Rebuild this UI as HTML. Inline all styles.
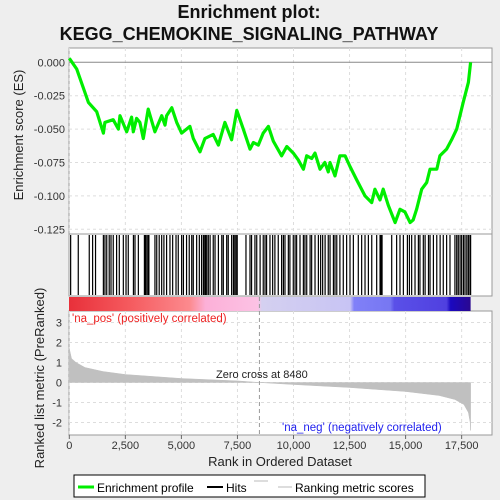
<!DOCTYPE html>
<html><head><meta charset="utf-8"><style>
body{margin:0;background:#eeeeee;}
svg{display:block;font-family:"Liberation Sans","DejaVu Sans",sans-serif;}
</style></head><body>
<svg id="c" width="500" height="500" viewBox="0 0 500 500">
<rect width="500" height="500" fill="#eeeeee"/>
<text x="249" y="18" text-anchor="middle" font-size="18" font-weight="bold" fill="#111">Enrichment plot:</text>
<text x="249" y="40" text-anchor="middle" font-size="18" font-weight="bold" fill="#111">KEGG_CHEMOKINE_SIGNALING_PATHWAY</text>
<defs>
<linearGradient id="cb" x1="0" x2="1" y1="0" y2="0">
<stop offset="0" stop-color="#e8303a"/><stop offset="0.15" stop-color="#f55a5e"/><stop offset="0.3" stop-color="#fc8a8e"/><stop offset="0.34" stop-color="#fcb0d8"/><stop offset="0.47" stop-color="#fcc2e4"/><stop offset="0.48" stop-color="#d4d0f0"/><stop offset="0.7" stop-color="#c8c4f4"/><stop offset="0.71" stop-color="#8080f8"/><stop offset="0.8" stop-color="#7777f2"/><stop offset="0.81" stop-color="#5a50e8"/><stop offset="0.94" stop-color="#5040e0"/><stop offset="0.95" stop-color="#1a08c0"/><stop offset="1" stop-color="#2a0890"/>
</linearGradient>
</defs>
<g id="root"></g>
<g>
<rect x="74" y="475" width="351" height="22" fill="#fff" stroke="#000"/>
<line x1="78" y1="487" x2="94" y2="487" stroke="#00ee00" stroke-width="3"/>
<text x="97" y="492" font-size="12">Enrichment profile</text>
<line x1="207" y1="487" x2="223" y2="487" stroke="#000" stroke-width="2"/>
<text x="226" y="492" font-size="12">Hits</text>
<line x1="254" y1="481" x2="268" y2="481" stroke="#bbb"/>
<line x1="278" y1="487" x2="292" y2="487" stroke="#bbb"/>
<text x="295" y="492" font-size="12">Ranking metric scores</text>
</g>
</svg>
<script>
const esRanks=[0,330,850,1220,1520,1590,1960,2190,2260,2560,2780,2855,3000,3150,3300,3520,3820,4120,4270,4340,4570,4790,5010,5380,5530,5830,6050,6420,6650,6940,7240,7470,7760,8060,8210,8430,8650,8880,9100,9470,9700,9990,10210,10440,10590,10810,10960,11180,11400,11550,11630,11850,12070,12300,12520,12820,13190,13490,13630,13860,14000,14230,14530,14750,14970,15200,15340,15490,15720,15940,16090,16390,16530,16830,17050,17280,17570,17800,17900];
const esValues=[0.003,-0.005,-0.03,-0.037,-0.053,-0.045,-0.043,-0.05,-0.04,-0.052,-0.041,-0.052,-0.042,-0.045,-0.057,-0.035,-0.052,-0.04,-0.047,-0.04,-0.034,-0.045,-0.053,-0.048,-0.057,-0.067,-0.057,-0.054,-0.062,-0.045,-0.058,-0.036,-0.05,-0.065,-0.06,-0.062,-0.053,-0.048,-0.059,-0.07,-0.063,-0.068,-0.073,-0.08,-0.07,-0.072,-0.068,-0.08,-0.075,-0.082,-0.075,-0.085,-0.07,-0.07,-0.078,-0.088,-0.1,-0.105,-0.095,-0.103,-0.095,-0.107,-0.12,-0.11,-0.112,-0.12,-0.118,-0.11,-0.095,-0.09,-0.08,-0.08,-0.07,-0.065,-0.058,-0.05,-0.03,-0.015,0.0];
const hits=[60,400,890,1040,1170,1520,1590,1670,1780,1860,1960,2110,2230,2410,2530,2630,2860,2930,3080,3350,3400,3460,3520,3550,3820,3900,4010,4120,4220,4340,4490,4610,4760,4860,5010,5090,5230,5350,5460,5530,5680,5800,5900,5980,6020,6080,6130,6200,6280,6420,6500,6650,6800,6870,7020,7090,7240,7320,7380,7440,7490,7880,8060,8130,8280,8360,8510,8650,8730,8800,8950,9070,9170,9320,9470,9550,9620,9770,9840,9990,10070,10140,10290,10440,10510,10590,10740,10810,10960,11110,11210,11300,11410,11550,11630,11780,11850,11930,12070,12220,12370,12520,12670,12890,13040,13190,13340,13490,13710,13860,13900,13950,14380,14600,14750,14900,15080,15170,15270,15420,15570,15640,15790,15870,16020,16090,16240,16390,16540,16680,16830,16980,17200,17280,17350,17430,17500,17580,17650,17730,17800,17870,17900];
const metricRanks=[0,100,300,700,1500,2500,5000,7500,8480,10000,12500,15000,16500,17200,17600,17800,17880,17900];
const metricValues=[1.7,1.2,1.0,0.75,0.55,0.4,0.2,0.08,0,-0.1,-0.25,-0.45,-0.65,-0.85,-1.1,-1.5,-2.0,-2.4];
const xTicks=[0,2500,5000,7500,10000,12500,15000,17500];
const xTickLabels=["0","2,500","5,000","7,500","10,000","12,500","15,000","17,500"];
const esTicks=[0,-0.025,-0.05,-0.075,-0.1,-0.125];
const esTickLabels=["0.000","-0.025","-0.050","-0.075","-0.100","-0.125"];
const mTicks=[3,2,1,0,-1,-2];
const zeroCross=8480;

const NS="http://www.w3.org/2000/svg";
const root=document.getElementById('root');
function mk(tag,attrs,parent){const e=document.createElementNS(NS,tag);for(const k in attrs)e.setAttribute(k,attrs[k]);(parent||root).appendChild(e);return e;}
const L=69,R=492;
const xs=r=>69.3+r*0.02242;
const yEs=v=>62.3-v*1336;
const yM=v=>382.5-v*20;

let p=mk('rect',{x:L,y:48,width:R-L,height:186,fill:'#fff',stroke:'#999'});


p=mk('rect',{x:L,y:234,width:R-L,height:62,fill:'#fff',stroke:'#999'});


p=mk('rect',{x:L,y:311,width:R-L,height:124,fill:'#fff',stroke:'#999'});



xTicks.forEach(t=>{[[48,234],[311,435]].forEach(([a,b])=>{const g=mk('line',{x1:xs(t),x2:xs(t),y1:a,y2:b,stroke:'#ddd','stroke-dasharray':'3,3'});});});
esTicks.forEach((t,i)=>{const g=mk('line',{x1:L,x2:R,y1:yEs(t),y2:yEs(t),stroke:t===0?'#888':'#ddd','stroke-dasharray':t===0?'':'3,3'});
const tx=mk('text',{x:65,y:yEs(t)+4,'text-anchor':'end','font-size':11,fill:'#333'});tx.textContent=esTickLabels[i];});
mTicks.forEach(t=>{const g=mk('line',{x1:L,x2:R,y1:yM(t),y2:yM(t),stroke:'#ddd','stroke-dasharray':'3,3'});
const tx=mk('text',{x:62,y:yM(t)+4,'text-anchor':'end','font-size':11,fill:'#333'});tx.textContent=String(t);});

let d=esRanks.map((r,i)=>(i?'L':'M')+xs(r).toFixed(1)+','+yEs(esValues[i]).toFixed(1)).join('');
let es=mk('path',{d:d,fill:'none',stroke:'#00ee00','stroke-width':3.2,'stroke-linejoin':'round'});



hits.forEach(h=>{const l=mk('line',{x1:xs(h),x2:xs(h),y1:235,y2:295,stroke:'#000','stroke-width':1.2});

});

let cb=mk('rect',{x:69,y:297,width:xs(17900)-69,height:14,fill:'url(#cb)'});



let md='M'+xs(0)+','+yM(0);
metricRanks.forEach((r,i)=>{md+='L'+xs(r).toFixed(1)+','+yM(metricValues[i]).toFixed(1);});
md+='L'+xs(17900)+','+yM(0)+'Z';
let ma=mk('path',{d:md,fill:'#c0c0c0',stroke:'#c0c0c0','stroke-width':0.5});



let zc=mk('line',{x1:xs(zeroCross),x2:xs(zeroCross),y1:297,y2:435,stroke:'#999','stroke-dasharray':'4,3'});


let zt=mk('text',{x:216,y:378,'font-size':11,fill:'#222'});zt.textContent='Zero cross at '+zeroCross;


let pl=mk('text',{x:72,y:322,'font-size':11.5,fill:'#ee2222'});pl.textContent="'na_pos' (positively correlated)";


let nl=mk('text',{x:282,y:431,'font-size':11.5,fill:'#2222ee'});nl.textContent="'na_neg' (negatively correlated)";



xTicks.forEach((t,i)=>{const tk=mk('line',{x1:xs(t),x2:xs(t),y1:435,y2:439,stroke:'#666'});
const tx=mk('text',{x:xs(t),y:449,'text-anchor':'middle','font-size':11,fill:'#333'});tx.textContent=xTickLabels[i];});

let xt=mk('text',{x:280,y:466,'text-anchor':'middle','font-size':13,fill:'#222'});xt.textContent='Rank in Ordered Dataset';


let yt=mk('text',{x:0,y:0,transform:'translate(23,135) rotate(-90)','text-anchor':'middle','font-size':13,fill:'#222'});yt.textContent='Enrichment score (ES)';


let yt2=mk('text',{x:0,y:0,transform:'translate(44,378) rotate(-90)','text-anchor':'middle','font-size':13,fill:'#222'});yt2.textContent='Ranked list metric (PreRanked)';


</script>
</body></html>
